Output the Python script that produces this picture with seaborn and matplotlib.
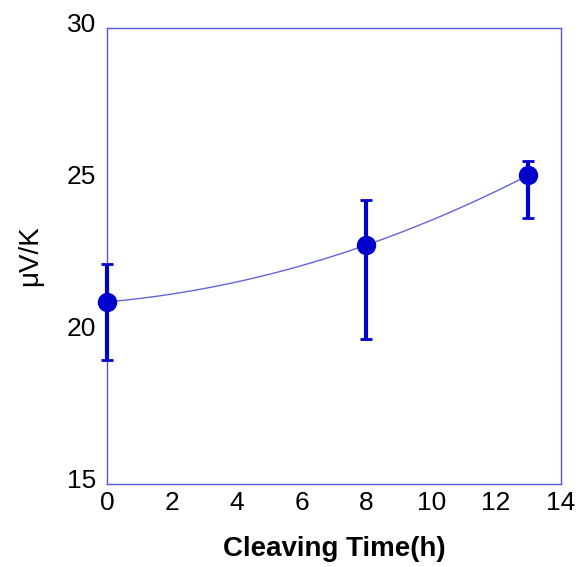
import numpy as np
import pandas as pd
import matplotlib
matplotlib.use("Agg")
import matplotlib.pyplot as plt
import matplotlib.transforms as mtransforms
import seaborn as sns

# Data
cleaving_time = [0, 8, 13]
seebeck = [20.99, 22.86, 25.16]
err_low = [1.91, 3.09, 1.41]
err_high = [1.25, 1.48, 0.47]

x_ticks = [0, 2, 4, 6, 8, 10, 12, 14]
y_ticks = [15, 20, 25, 30]

sns.set_style("white")
plt.rcParams['font.family'] = ['Liberation Sans', 'DejaVu Sans']
plt.rcParams['text.color'] = 'black'
plt.rcParams['axes.labelcolor'] = 'black'
plt.rcParams['xtick.color'] = 'black'
plt.rcParams['ytick.color'] = 'black'

df = pd.DataFrame({"t": cleaving_time, "s": seebeck})

fig = plt.figure(figsize=(5.8, 5.67), dpi=100)
ax = fig.add_axes([0.1845, 0.1464, 0.7825, 0.8042])

marker_color = "#0000CC"
line_color = "#6464DC"
spine_color = "#5555DD"

sns.regplot(data=df, x="t", y="s", order=2, ci=None, scatter=False,
            truncate=True, ax=ax, line_kws=dict(color=line_color, lw=1.0))

eb = ax.errorbar(cleaving_time, seebeck, yerr=[err_low, err_high], fmt='o',
                 color=marker_color, ms=13, elinewidth=3, capsize=4.5, capthick=2,
                 zorder=5, clip_on=False)
for artist in list(eb.lines[1]) + list(eb.lines[2]):
    artist.set_clip_on(False)

ax.set_xlim(0, 14)
ax.set_ylim(15, 30)
ax.set_xticks(x_ticks)
ax.set_yticks(y_ticks)
ax.tick_params(axis='both', length=0, labelsize=19)
ax.tick_params(axis='x', pad=5)
ax.tick_params(axis='y', pad=8)
offset = mtransforms.ScaledTranslation(0, 4 / 72, fig.dpi_scale_trans)
for lab in ax.get_yticklabels():
    lab.set_transform(lab.get_transform() + offset)
ax.set_xlabel("Cleaving Time(h)", fontsize=20, fontweight='bold', labelpad=15)
ax.set_ylabel("μV/K", fontsize=20, labelpad=17)
for sp in ax.spines.values():
    sp.set_color(spine_color)
    sp.set_linewidth(1.0)
    sp.set_visible(True)

fig.savefig("out.png", dpi=100)
